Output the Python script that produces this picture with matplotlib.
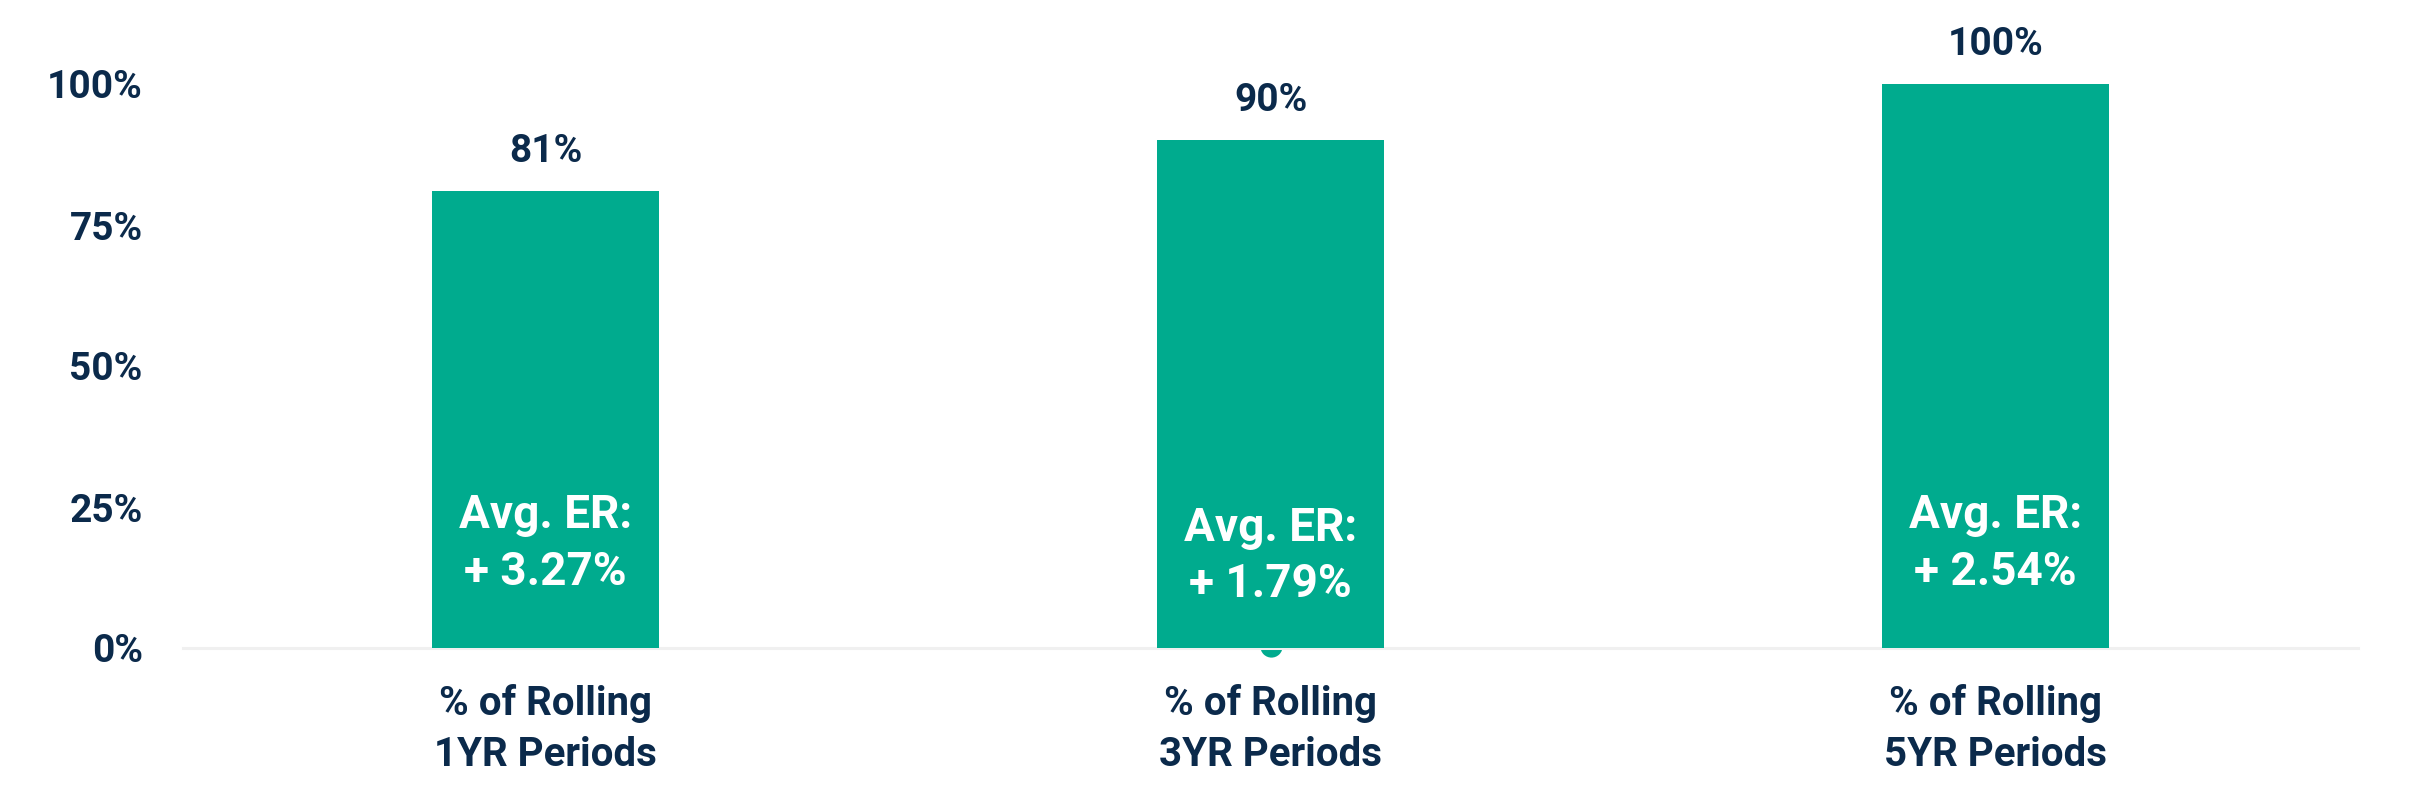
import matplotlib.pyplot as plt

categories = ['% of Rolling\n1YR Periods', '% of Rolling\n3YR Periods', '% of Rolling\n5YR Periods']
pct_positive = [81, 90, 100]
avg_er = [3.27, 1.79, 2.54]
y_ticks = [0, 25, 50, 75, 100]

teal = '#00ab8e'
navy = '#0b2a4b'

plt.rcParams['font.family'] = ['Roboto', 'DejaVu Sans']

fig = plt.figure(figsize=(24.15, 8), dpi=100)
ax = fig.add_axes([183 / 2415, 152 / 800, 2175 / 2415, 564 / 800])

x = list(range(len(categories)))
bars = ax.bar(x, pct_positive, width=0.313, color=teal, zorder=2)

# small dot peeking out below the middle bar
ax.plot([1], [0.3], 'o', color=teal, ms=16, mew=0, zorder=1, clip_on=False)

# value labels above bars
for xi, v in zip(x, pct_positive):
    ax.annotate(f'{v}%', (xi, v), xytext=(0, 21), textcoords='offset points',
                ha='center', va='baseline', fontsize=28, fontweight='bold',
                color=navy)

# average excess return inside bars
er_y = [18.5, 16.3, 18.5]
for xi, er, yy in zip(x, avg_er, er_y):
    ax.text(xi, yy, f'Avg. ER:\n+ {er:.2f}%', ha='center', va='center',
            fontsize=33, fontweight='bold', color='white', linespacing=1.36,
            zorder=3)

ax.set_xlim(-0.5, 2.5)
ax.set_ylim(0, 100)
ax.set_yticks(y_ticks)
ax.set_yticklabels([f'{t}%' for t in y_ticks], fontsize=28, fontweight='bold', color=navy)
ax.set_xticks(x)
ax.set_xticklabels(categories, fontsize=29, fontweight='bold', color=navy,
                   linespacing=1.42, va='top')
ax.tick_params(axis='y', length=0, pad=29)
ax.tick_params(axis='x', length=0, pad=26)

for s in ['top', 'right', 'left']:
    ax.spines[s].set_visible(False)
ax.spines['bottom'].set_color('#f0f0f0')
ax.spines['bottom'].set_linewidth(2.2)
ax.spines['bottom'].set_zorder(1)

plt.savefig('out.png', dpi=100)
